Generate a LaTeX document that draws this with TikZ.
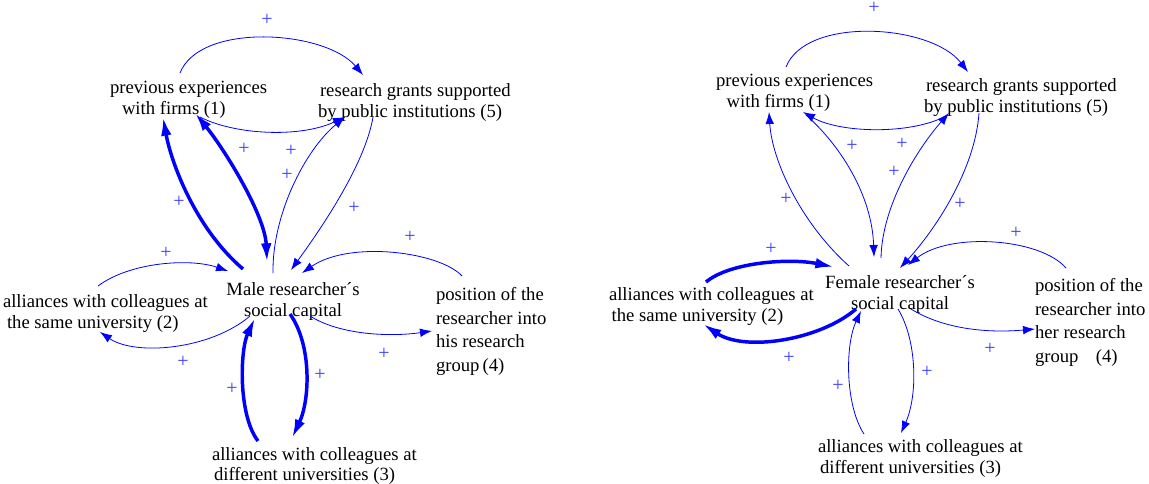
\documentclass[tikz,border=0pt]{standalone}
\usepackage{fontspec}
\setmainfont{Liberation Serif}
\usetikzlibrary{arrows.meta,calc}
\definecolor{lnk}{RGB}{0,0,255}
\definecolor{pls}{RGB}{60,60,255}
\tikzset{
  lbl/.style={inner sep=0pt, outer sep=0pt, align=left, anchor=west, text=black,
    font=\fontsize{14}{15.75}\selectfont},
  lblc/.style={lbl, align=center, anchor=center},
  lblq/.style={lbl, font=\fontsize{14}{17.8}\selectfont},
  thinlink/.style={draw=lnk, line width=0.6pt, -{Latex[length=9pt,width=6.5pt]}},
  thicklink/.style={draw=lnk, line width=2.6pt, -{Latex[length=14pt,width=8pt]}},
  thickboth/.style={draw=lnk, line width=2.6pt, {Latex[length=14pt,width=8pt]}-{Latex[length=14pt,width=8pt]}},
  pol/.style={text=pls, inner sep=0pt, font=\fontsize{15}{15}\selectfont},
}
\begin{document}
\begin{tikzpicture}[x=0.75pt, y=-0.75pt]
\useasboundingbox (0,0) rectangle (1149,483);

% ---------------- left diagram ----------------
\node[lbl]  (n1l) at (110,99.5) {previous experiences\\\hspace*{9pt}with firms (1)};
\node[lbl]  (n5l) at (318,103) {\hspace*{1.5pt}research grants supported\\by public institutions (5)};
\node[lblc] (ml)  at (293,301) {Male researcher´s\\social capital};
\node[lbl]  (n2l) at (3,314) {alliances with colleagues at\\\hspace*{3pt}the same university (2)};
\node[lbl]  (n3l) at (212,466) {alliances with colleagues at\\\hspace*{1.5pt}different universities (3)};
\node[lblq] (n4l) at (436,331.5) {position of the\\researcher into\\his research\\group\,(4)};

\draw[thinlink]  ($(n1l.west)+(70,-26.5)$) .. controls +(20,-51) and +(-38,-45) .. ($(n5l.west)+(45,-28)$);
\draw[thinlink]  ($(n1l.west)+(90,17.5)$) .. controls +(35,18) and +(-45,21) .. ($(n5l.west)+(27,14)$);
\draw[thicklink] ($(ml)+(-50,-32)$) .. controls +(-48,-41) and +(8,45) .. ($(n1l.west)+(53,17.5)$);
\draw[thickboth] ($(n1l.west)+(85,13.5)$) .. controls +(30,37) and +(-2,-47) .. ($(ml)+(-26,-39)$);
\draw[thinlink]  ($(ml)+(-20,-28)$) .. controls +(-1,-58) and +(-40,33) .. ($(n5l.west)+(27,14)$);
\draw[thinlink]  ($(n5l.west)+(55,14)$) .. controls +(-8,48) and +(29,-40) .. ($(ml)+(-2,-31)$);
\draw[thinlink]  ($(n4l.west)+(26,-55.5)$) .. controls +(-22,-24) and +(48,-33) .. ($(ml)+(9,-28)$);
\draw[thinlink]  ($(n2l.west)+(95,-28)$) .. controls +(32,-24) and +(-38,-13) .. ($(ml)+(-65,-30)$);
\draw[thinlink]  ($(ml)+(-43,15)$) .. controls +(-40,34) and +(35,24) .. ($(n2l.west)+(97,18)$);
\draw[thicklink] ($(n3l.west)+(46,-25)$) .. controls +(-20,-26) and +(-15,32) .. ($(ml)+(-38,17)$);
\draw[thicklink] ($(ml)+(-3,13)$) .. controls +(22,31) and +(18,-38) .. ($(n3l.west)+(80,-28)$);
\draw[thinlink]  ($(ml)+(17,15)$) .. controls +(30,19) and +(-42,6) .. ($(n4l.west)+(-4,-0.5)$);

\node[pol] (pl1)  at (267,20)  {+};
\node[pol] (pl2)  at (244,149) {+};
\node[pol] (pl3)  at (291,151) {+};
\node[pol] (pl4)  at (287,175) {+};
\node[pol] (pl5)  at (179,202) {+};
\node[pol] (pl6)  at (354,208) {+};
\node[pol] (pl7)  at (410,237) {+};
\node[pol] (pl8)  at (166,253) {+};
\node[pol] (pl9)  at (183,362) {+};
\node[pol] (pl10) at (232,389) {+};
\node[pol] (pl11) at (320,375) {+};
\node[pol] (pl12) at (384,354) {+};

% ---------------- right diagram ----------------
\node[lbl]  (n1r) at (716,93) {previous experiences\\\hspace*{8pt}with firms (1)};
\node[lbl]  (n5r) at (924,98) {\hspace*{1.5pt}research grants supported\\by public institutions (5)};
\node[lblc] (fr)  at (900,294.5) {Female researcher´s\\social capital};
\node[lbl]  (n2r) at (609,307) {alliances with colleagues at\\\hspace*{2pt}the same university (2)};
\node[lbl]  (n3r) at (818,459) {alliances with colleagues at\\\hspace*{1.5pt}different universities (3)};
\node[lblq] (n4r) at (1035,322.5) {position of the\\researcher into\\her research\\group\hspace{13pt}(4)};

\draw[thinlink]  ($(n1r.west)+(70,-26)$) .. controls +(20,-51) and +(-37,-48) .. ($(n5r.west)+(44,-26)$);
\draw[thinlink]  ($(n5r.west)+(22,18)$) .. controls +(-36,19) and +(37,21) .. ($(n1r.west)+(87,19)$);
\draw[thinlink]  ($(fr)+(-51,-28.5)$) .. controls +(-49,-44) and +(3,48) .. ($(n1r.west)+(53,19)$);
\draw[thinlink]  ($(n1r.west)+(90,22)$) .. controls +(34,30) and +(-2,-62) .. ($(fr)+(-26,-37.5)$);
\draw[thinlink]  ($(fr)+(-19,-36.5)$) .. controls +(1,-53) and +(-31,35) .. ($(n5r.west)+(25,15)$);
\draw[thinlink]  ($(n5r.west)+(55,15)$) .. controls +(-4,57) and +(35,-38) .. ($(fr)+(0,-26.5)$);
\draw[thinlink]  ($(n4r.west)+(31,-54.5)$) .. controls +(-26,-30) and +(42,-33) .. ($(fr)+(8,-29.5)$);
\draw[thicklink] ($(n2r.west)+(97,-25)$) .. controls +(24,-20) and +(-44,-9) .. ($(fr)+(-66,-27.5)$);
\draw[thicklink] ($(fr)+(-44,14.5)$) .. controls +(-36,31) and +(42,28) .. ($(n2r.west)+(94,17)$);
\draw[thinlink]  ($(n3r.west)+(46,-25)$) .. controls +(-19,-29) and +(-16,34) .. ($(fr)+(-39,16.5)$);
\draw[thinlink]  ($(fr)+(-2,14.5)$) .. controls +(19,31) and +(17,-38) .. ($(n3r.west)+(83,-26)$);
\draw[thinlink]  ($(fr)+(11,14.5)$) .. controls +(34,21) and +(-45,4) .. ($(n4r.west)+(0,6.5)$);

\node[pol] (pr1)  at (874,8)   {+};
\node[pol] (pr2)  at (852,146) {+};
\node[pol] (pr3)  at (902,144) {+};
\node[pol] (pr4)  at (894,172) {+};
\node[pol] (pr5)  at (786,199) {+};
\node[pol] (pr6)  at (960,204) {+};
\node[pol] (pr7)  at (1016,233) {+};
\node[pol] (pr8)  at (771,249) {+};
\node[pol] (pr9)  at (789,358) {+};
\node[pol] (pr10) at (838,386) {+};
\node[pol] (pr11) at (927,372) {+};
\node[pol] (pr12) at (990,349) {+};
\end{tikzpicture}
\end{document}
